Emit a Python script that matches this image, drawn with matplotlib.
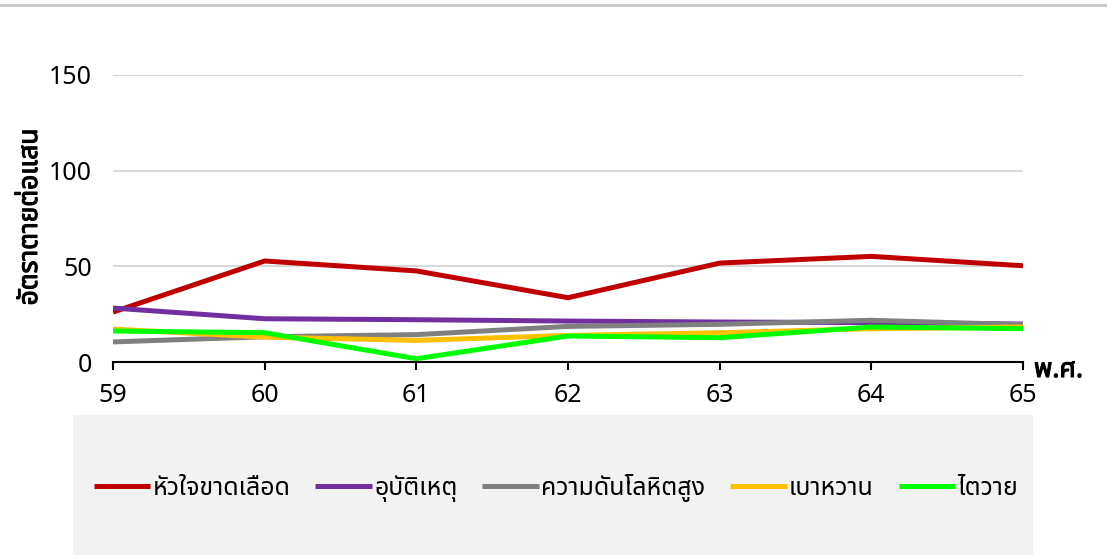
import matplotlib
matplotlib.use("Agg")
import matplotlib.pyplot as plt
from matplotlib import font_manager
from matplotlib.ft2font import FT2Font
from matplotlib.patches import Rectangle
from matplotlib.lines import Line2D
import matplotlib.patheffects as pe

years = [59, 60, 61, 62, 63, 64, 65]
series_names = ["หัวใจขาดเลือด", "อุบัติเหตุ", "ความดันโลหิตสูง", "เบาหวาน", "ไตวาย"]
heart = [26.1, 52.8, 47.6, 33.6, 51.7, 55.2, 50.3]
accident = [28.2, 22.6, 22.1, 21.4, 20.9, 20.6, 19.8]
pressure = [10.5, 13.2, 14.3, 18.6, 19.7, 21.8, 19.5]
diabetes = [17.2, 13.0, 11.3, 13.9, 15.3, 17.4, 18.3]
kidney = [16.2, 15.3, 1.7, 13.6, 12.7, 18.3, 17.4]
colors = ["#C00000", "#7030A0", "#808080", "#FFC000", "#00FF00"]
y_ticks = [0, 50, 100, 150]


# find an installed font that has Thai glyphs
def find_thai_font():
    found = []
    for f in font_manager.fontManager.ttflist:
        try:
            cmap = FT2Font(f.fname).get_charmap()
        except Exception:
            continue
        if 0x0E2B in cmap and 0x0E31 in cmap:
            found.append(f.name)
    for pref in ["Tahoma", "Noto Sans Thai", "Noto Sans", "DejaVu Sans", "Open Sans", "Roboto", "Lato", "Inter"]:
        if pref in found:
            return pref
    return found[0] if found else "DejaVu Sans"


thai = find_thai_font()
plt.rcParams['font.family'] = [thai, 'DejaVu Sans']
fake_bold = [pe.withStroke(linewidth=0.8, foreground="black")]

fig = plt.figure(figsize=(11.07, 5.55), dpi=100)
ax = fig.add_axes([113 / 1107, 1 - 362 / 555, 910 / 1107, 287 / 555])

for vals, c, name in zip([heart, accident, pressure, diabetes, kidney], colors, series_names):
    ax.plot(years, vals, color=c, lw=3.6, label=name, solid_capstyle="butt", solid_joinstyle="miter")

ax.set_xlim(59, 65)
ax.set_ylim(0, 150)
ax.set_yticks(y_ticks)
ax.set_xticks(years)
ax.grid(axis="y", color="#d9d9d9", lw=1.5)
ax.set_axisbelow(True)
for s in ["top", "right", "left"]:
    ax.spines[s].set_visible(False)
ax.spines["bottom"].set_color("black")
ax.spines["bottom"].set_linewidth(1.5)
ax.tick_params(axis="x", direction="out", length=6, width=1.5, pad=9, labelsize=18)
ax.tick_params(axis="y", length=0, pad=15, labelsize=18)

fig.text(30 / 1107, 1 - 217 / 555, "อัตราตายต่อแสน", rotation=90, ha="center", va="center",
         fontsize=19, fontweight="bold", path_effects=fake_bold)
fig.text(1034 / 1107, 1 - 370 / 555, "พ.ศ.", ha="left", va="center", fontsize=19,
         fontweight="bold", path_effects=fake_bold)

# legend background and top border
fig.patches.append(Rectangle((73 / 1107, 0), 960 / 1107, 140 / 555, transform=fig.transFigure,
                             facecolor="#f2f2f2", edgecolor="none", zorder=0))
fig.lines.append(Line2D([0, 1], [1 - 5 / 555, 1 - 5 / 555], transform=fig.transFigure,
                        color="#c8c8c8", lw=2))

fig.legend(loc="center", bbox_to_anchor=(556 / 1107, 1 - 488 / 555), ncol=5, frameon=False,
           fontsize=18, handlelength=2.25, handletextpad=0.1, columnspacing=1.0)

fig.savefig("out.png", dpi=100)
